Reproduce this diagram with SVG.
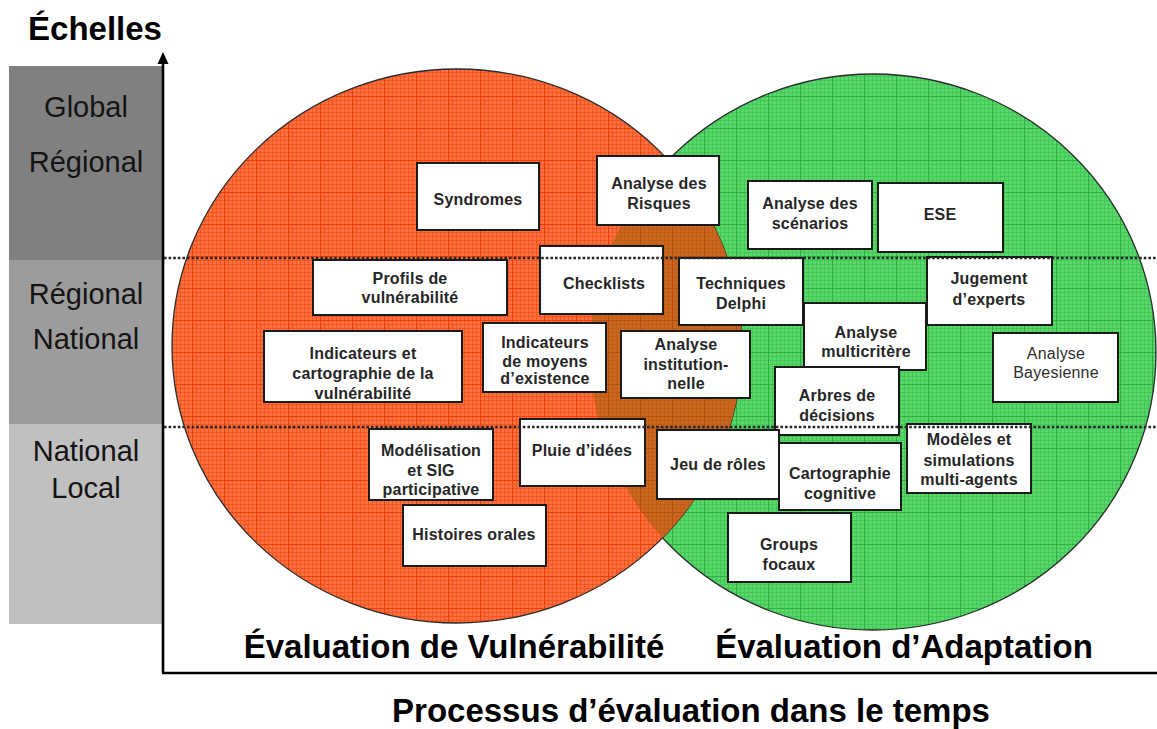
<svg xmlns="http://www.w3.org/2000/svg" xmlns:xlink="http://www.w3.org/1999/xlink" width="1157" height="729" viewBox="0 0 1157 729">
  <style>
    .scale { font-family: "Liberation Sans", Arial, sans-serif; font-size: 29px; fill: #141414; text-anchor: middle; }
    .title { font-family: "Liberation Sans", Arial, sans-serif; font-weight: bold; fill: #000; text-anchor: middle; }
    .box rect { fill: #ffffff; stroke: #1a1a1a; stroke-width: 2; }
    .box text { font-family: "Liberation Sans", Arial, sans-serif; font-size: 16px; font-weight: bold; fill: #262626; text-anchor: middle; letter-spacing: 0.2px; }
    .box text.light { font-weight: normal; fill: #2e2e2e; }
    .dots { stroke: #262626; stroke-width: 2.6; stroke-dasharray: 2.6 2; fill: none; }
    .axis { stroke: #000; stroke-width: 2.6; fill: none; }
  </style>
  <defs>
    <ellipse id="eR" cx="457" cy="346" rx="285" ry="277"/>
    <ellipse id="eG" cx="873" cy="352" rx="283" ry="278"/>
    <clipPath id="clipR"><use xlink:href="#eR"/></clipPath>
    <!-- fine and coarse grid textures for each fill -->
    <pattern id="fineR" width="4" height="4" patternUnits="userSpaceOnUse"><path d="M0 0.5H4M0.5 0V4" stroke="#F5561F" stroke-width="1"/></pattern>
    <pattern id="majR" width="32" height="32" patternUnits="userSpaceOnUse"><path d="M0 0.5H32M0.5 0V32" stroke="#E84006" stroke-width="1.2"/></pattern>
    <pattern id="fineG" width="4" height="4" patternUnits="userSpaceOnUse"><path d="M0 0.5H4M0.5 0V4" stroke="#45C758" stroke-width="1"/></pattern>
    <pattern id="majG" width="32" height="32" patternUnits="userSpaceOnUse"><path d="M0 0.5H32M0.5 0V32" stroke="#2FAE42" stroke-width="1.2"/></pattern>
    <pattern id="fineO" width="4" height="4" patternUnits="userSpaceOnUse"><path d="M0 0.5H4M0.5 0V4" stroke="#C05E18" stroke-width="1"/></pattern>
    <pattern id="majO" width="32" height="32" patternUnits="userSpaceOnUse"><path d="M0 0.5H32M0.5 0V32" stroke="#B0500E" stroke-width="1.2"/></pattern>
  </defs>

  <rect width="1157" height="729" fill="#ffffff"/>

  <!-- scale bands -->
  <g id="scale-bands">
    <rect x="9" y="66" width="154" height="194" fill="#808080"/>
    <rect x="9" y="260" width="154" height="164" fill="#9c9c9c"/>
    <rect x="9" y="424" width="154" height="200" fill="#c0c0c0"/>
    <text class="scale" x="86" y="117">Global</text>
    <text class="scale" x="86" y="172">Régional</text>
    <text class="scale" x="86" y="304">Régional</text>
    <text class="scale" x="86" y="349">National</text>
    <text class="scale" x="86" y="461">National</text>
    <text class="scale" x="86" y="498">Local</text>
  </g>

  <!-- assessment domains -->
  <g id="domain-adaptation">
    <use xlink:href="#eG" fill="#58D86B"/>
    <use xlink:href="#eG" fill="url(#fineG)"/>
    <use xlink:href="#eG" fill="url(#majG)"/>
    <use xlink:href="#eG" fill="none" stroke="#2b2b2b" stroke-width="1.3"/>
  </g>
  <g id="domain-vulnerability">
    <use xlink:href="#eR" fill="#FF7040"/>
    <use xlink:href="#eR" fill="url(#fineR)"/>
    <use xlink:href="#eR" fill="url(#majR)"/>
    <use xlink:href="#eR" fill="none" stroke="#2b2b2b" stroke-width="1.3"/>
  </g>
  <g id="domain-overlap" clip-path="url(#clipR)">
    <use xlink:href="#eG" fill="#CC661E"/>
    <use xlink:href="#eG" fill="url(#fineO)"/>
    <use xlink:href="#eG" fill="url(#majO)"/>
  </g>

  <!-- axes -->
  <g id="axes">
    <line class="axis" x1="163" y1="673" x2="163" y2="62"/>
    <polygon points="163,52 157.5,64 168.5,64" fill="#000"/>
    <line class="axis" x1="162" y1="673" x2="1157" y2="673"/>
  </g>

  <!-- methods -->
  <g id="syndromes" class="box"><rect x="417" y="163" width="122" height="67"/><text x="478" y="205">Syndromes</text></g>
  <g id="analyse-risques" class="box"><rect x="597" y="156" width="122" height="69"/><text x="659" y="189">Analyse des</text><text x="659" y="209">Risques</text></g>
  <g id="analyse-scenarios" class="box"><rect x="748" y="181" width="124" height="68"/><text x="810" y="209">Analyse des</text><text x="810" y="229">scénarios</text></g>
  <g id="ese" class="box"><rect x="878" y="183" width="125" height="69"/><text x="940" y="220">ESE</text></g>
  <g id="profils" class="box"><rect x="313" y="260" width="194" height="55"/><text x="410" y="284">Profils de</text><text x="410" y="303">vulnérabilité</text></g>
  <g id="checklists" class="box"><rect x="540" y="246" width="123" height="68"/><text x="604" y="289">Checklists</text></g>
  <g id="delphi" class="box"><rect x="679" y="258" width="124" height="67"/><text x="741" y="289">Techniques</text><text x="741" y="309">Delphi</text></g>
  <g id="jugement" class="box"><rect x="927" y="257" width="125" height="68"/><text x="989" y="284">Jugement</text><text x="989" y="305">d’experts</text></g>
  <g id="multicritere" class="box"><rect x="804" y="303" width="122" height="67"/><text x="866" y="338">Analyse</text><text x="866" y="357">multicritère</text></g>
  <g id="bayesienne" class="box"><rect x="993" y="333" width="125" height="69"/><text class="light" x="1056" y="359">Analyse</text><text class="light" x="1056" y="378">Bayesienne</text></g>
  <g id="indicateurs-carto" class="box"><rect x="264" y="331" width="198" height="71"/><text x="363" y="359">Indicateurs et</text><text x="363" y="379">cartographie de la</text><text x="363" y="399">vulnérabilité</text></g>
  <g id="indicateurs-moyens" class="box"><rect x="483" y="323" width="123" height="69"/><text x="545" y="348">Indicateurs</text><text x="545" y="367">de moyens</text><text x="545" y="384">d’existence</text></g>
  <g id="institutionnelle" class="box"><rect x="621" y="331" width="129" height="67"/><text x="686" y="350">Analyse</text><text x="686" y="370">institution-</text><text x="686" y="389">nelle</text></g>
  <g id="arbres" class="box"><rect x="775" y="367" width="124" height="68"/><text x="837" y="401">Arbres de</text><text x="837" y="421">décisions</text></g>
  <g id="modelisation-sig" class="box"><rect x="369" y="429" width="124" height="71"/><text x="431" y="456">Modélisation</text><text x="431" y="476">et SIG</text><text x="431" y="495">participative</text></g>
  <g id="pluie-idees" class="box"><rect x="520" y="419" width="125" height="67"/><text x="582" y="456">Pluie d’idées</text></g>
  <g id="histoires" class="box"><rect x="403" y="505" width="143" height="61"/><text x="474" y="540">Histoires orales</text></g>
  <g id="jeu-roles" class="box"><rect x="657" y="430" width="122" height="69"/><text x="718" y="470">Jeu de rôles</text></g>
  <g id="carto-cognitive" class="box"><rect x="779" y="443" width="122" height="67"/><text x="840" y="479">Cartographie</text><text x="840" y="499">cognitive</text></g>
  <g id="multi-agents" class="box"><rect x="907" y="424" width="124" height="69"/><text x="969" y="445">Modèles et</text><text x="969" y="466">simulations</text><text x="969" y="485">multi-agents</text></g>
  <g id="groups-focaux" class="box"><rect x="728" y="513" width="123" height="69"/><text x="789" y="550">Groups</text><text x="789" y="570">focaux</text></g>

  <!-- scale boundaries -->
  <g id="scale-lines">
    <line class="dots" x1="164" y1="258" x2="1157" y2="258"/>
    <line class="dots" x1="164" y1="427" x2="1157" y2="427"/>
  </g>

  <!-- titles -->
  <text class="title" x="95" y="40" font-size="33">Échelles</text>
  <text class="title" x="454" y="658" font-size="33">Évaluation de Vulnérabilité</text>
  <text class="title" x="904" y="658" font-size="33">Évaluation d’Adaptation</text>
  <text class="title" x="691" y="722" font-size="33">Processus d’évaluation dans le temps</text>
</svg>
